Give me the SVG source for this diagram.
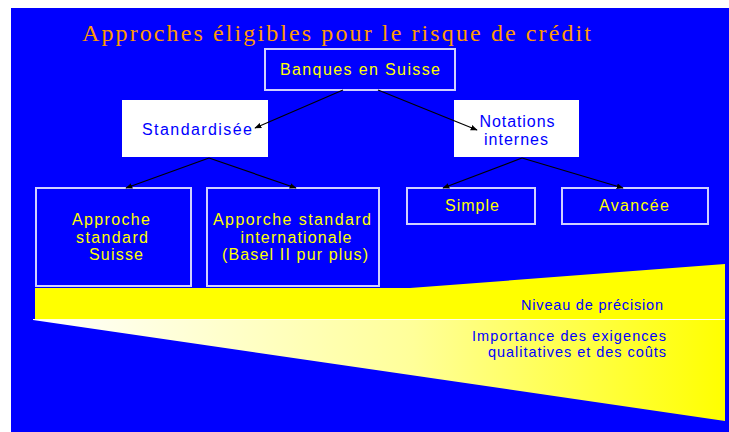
<svg xmlns="http://www.w3.org/2000/svg" width="729" height="432" viewBox="0 0 729 432">
<style>
.bx{fill:#0000FF;stroke:#D0D0FF;stroke-width:2}
.wb{fill:#FFFFFF;stroke:none}
.yt{fill:#FFFF00;font-family:"Liberation Sans",Arial,sans-serif;font-size:16px}
.bt{fill:#0000FF;font-family:"Liberation Sans",Arial,sans-serif;font-size:16px}
.st{fill:#0000FF;font-family:"Liberation Sans",Arial,sans-serif;font-size:14.5px}
.cn{stroke:#000000;stroke-width:1.2;fill:none}
</style>
<defs>
<marker id="ah" viewBox="0 0 10 10" refX="9" refY="5" markerWidth="7" markerHeight="7" orient="auto" markerUnits="userSpaceOnUse">
<path d="M0,1 L10,5 L0,9 z" fill="#000000"/>
</marker>
<linearGradient id="gr" x1="33" y1="0" x2="725" y2="0" gradientUnits="userSpaceOnUse">
<stop offset="0" stop-color="#FFFFFF"/>
<stop offset="0.55" stop-color="#FFFF99"/>
<stop offset="1" stop-color="#FFFF00"/>
</linearGradient>
</defs>
<rect x="0" y="0" width="729" height="432" fill="#FFFFFF"/>
<rect x="11" y="8" width="718" height="424" fill="#0000FF"/>
<text x="82" y="41" fill="#FF9900" font-family="'Liberation Serif','Times New Roman',serif" font-size="24" textLength="509" lengthAdjust="spacing">Approches éligibles pour le risque de crédit</text>
<g id="scale">
<polygon points="35,288 410,288 725,264 725,319 35,319" fill="#FFFF00"/>
<polygon points="33,320 725,320 725,421" fill="url(#gr)"/>
<line x1="33" y1="319.5" x2="725" y2="319.5" stroke="#FFFFE8" stroke-width="1"/>
<text class="st" x="663" y="310" text-anchor="end" textLength="142" lengthAdjust="spacing">Niveau de précision</text>
<text class="st" x="666" y="341" text-anchor="end" textLength="194" lengthAdjust="spacing">Importance des exigences</text>
<text class="st" x="666" y="357" text-anchor="end" textLength="178" lengthAdjust="spacing">qualitatives et des coûts</text>
</g>
<g id="banques">
<rect class="bx" x="265" y="49" width="190" height="41"/>
<text class="yt" x="360" y="75" text-anchor="middle" textLength="160" lengthAdjust="spacing">Banques en Suisse</text>
</g>
<g id="standardisee">
<rect class="wb" x="122" y="100" width="146" height="57"/>
<text class="bt" x="197" y="135" text-anchor="middle" textLength="110" lengthAdjust="spacing">Standardisée</text>
</g>
<g id="notations">
<rect class="wb" x="454" y="100" width="125" height="57"/>
<text class="bt" x="517" y="127" text-anchor="middle" textLength="75" lengthAdjust="spacing">Notations</text>
<text class="bt" x="516" y="145" text-anchor="middle" textLength="64" lengthAdjust="spacing">internes</text>
</g>
<g id="approche-suisse">
<rect class="bx" x="36" y="188" width="155" height="98"/>
<text class="yt" x="111" y="225" text-anchor="middle" textLength="78" lengthAdjust="spacing">Approche</text>
<text class="yt" x="112" y="243" text-anchor="middle" textLength="72" lengthAdjust="spacing">standard</text>
<text class="yt" x="116" y="260" text-anchor="middle" textLength="54" lengthAdjust="spacing">Suisse</text>
</g>
<g id="approche-internationale">
<rect class="bx" x="207" y="188" width="172" height="98"/>
<text class="yt" x="292" y="225" text-anchor="middle" textLength="158" lengthAdjust="spacing">Apporche standard</text>
<text class="yt" x="296" y="243" text-anchor="middle" textLength="111" lengthAdjust="spacing">internationale</text>
<text class="yt" x="295" y="260" text-anchor="middle" textLength="146" lengthAdjust="spacing">(Basel II pur plus)</text>
</g>
<g id="simple">
<rect class="bx" x="407" y="188" width="128" height="36"/>
<text class="yt" x="472" y="211" text-anchor="middle" textLength="54" lengthAdjust="spacing">Simple</text>
</g>
<g id="avancee">
<rect class="bx" x="562" y="188" width="146" height="36"/>
<text class="yt" x="634" y="211" text-anchor="middle" textLength="70" lengthAdjust="spacing">Avancée</text>
</g>
<g id="connectors">
<line class="cn" x1="343" y1="90" x2="255" y2="128" marker-end="url(#ah)"/>
<line class="cn" x1="378" y1="90" x2="477" y2="130" marker-end="url(#ah)"/>
<line class="cn" x1="209" y1="158" x2="126" y2="188" marker-end="url(#ah)"/>
<line class="cn" x1="209" y1="158" x2="296" y2="188" marker-end="url(#ah)"/>
<line class="cn" x1="522" y1="158" x2="443" y2="188" marker-end="url(#ah)"/>
<line class="cn" x1="522" y1="158" x2="623" y2="188" marker-end="url(#ah)"/>
</g>
</svg>
